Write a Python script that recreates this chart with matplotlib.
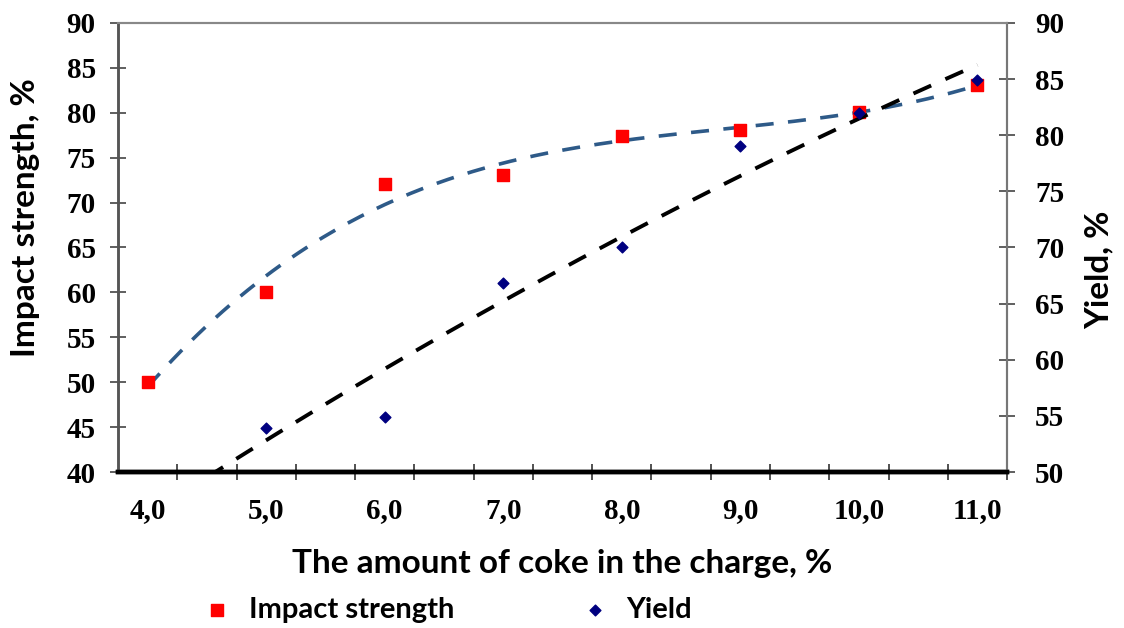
import numpy as np
import matplotlib
matplotlib.use("Agg")
import matplotlib.pyplot as plt

# data
coke = [4.0, 5.0, 6.0, 7.0, 8.0, 9.0, 10.0, 11.0]
impact = [50.0, 60.0, 72.1, 73.1, 77.4, 78.1, 80.1, 83.1]
# the 4,0 yield point lies below the right axis range (hidden)
yield_ = [47.0, 53.9, 54.9, 66.8, 70.0, 79.0, 82.0, 84.9]
tick_labels = ["4,0", "5,0", "6,0", "7,0", "8,0", "9,0", "10,0", "11,0"]

sans = ["Lato", "DejaVu Sans"]
serif = ["Liberation Serif", "DejaVu Serif"]

fig = plt.figure(figsize=(11.24, 6.28), dpi=100)
ax = fig.add_axes([0.105, 0.2484, 0.791, 0.715])
ax2 = ax.twinx()

# trend lines (polynomial, like the spreadsheet trendlines)
xs = np.linspace(coke[0], coke[-1], 200)
p_imp = np.polyfit(coke, impact, 3)
p_yld = np.polyfit(coke, yield_, 2)

ax.plot(xs, np.polyval(p_imp, xs), ls=(0, (5, 4)), color="#2E5A88", lw=2.6, zorder=2)
ax.scatter(coke, impact, marker="s", s=80, color="#FF0000", zorder=3, label="Impact strength")
ax2.plot(xs, np.polyval(p_yld, xs), ls=(0, (5, 4)), color="black", lw=2.8, zorder=2)
ax2.scatter(coke, yield_, marker="D", s=30, color="#000080", zorder=3, label="Yield")

ax.set_xlim(3.75, 11.25)
ax.set_ylim(40, 90)
ax2.set_ylim(50, 90)
ax.set_yticks(np.arange(40, 91, 5))
ax2.set_yticks(np.arange(50, 91, 5))

ax.set_xticks(coke)
ax.set_xticklabels(tick_labels)
ax.set_xticks(np.arange(4.25, 11.3, 0.5), minor=True)
ax.tick_params(axis="x", which="major", length=0, pad=18)
ax.tick_params(axis="x", which="minor", direction="inout", length=11, width=1.2, color="#333333")
ax.tick_params(axis="y", direction="inout", length=12, width=1.2, color="#444444", pad=10)
ax2.tick_params(axis="y", direction="inout", length=12, width=1.2, color="#444444", pad=14)

for a in (ax, ax2):
    for lab in a.get_xticklabels() + a.get_yticklabels():
        lab.set_family(serif)
        lab.set_fontweight("bold")
        lab.set_fontsize(21)

for a in (ax, ax2):
    a.spines["bottom"].set_linewidth(3.2)
    a.spines["bottom"].set_color("black")
    a.spines["left"].set_linewidth(1.8)
    a.spines["left"].set_color("#555555")
    a.spines["top"].set_linewidth(1.5)
    a.spines["top"].set_color("#888888")
    a.spines["right"].set_linewidth(1.5)
    a.spines["right"].set_color("#777777")

ax.set_xlabel("The amount of coke in the charge, %", family=sans, fontweight="bold", fontsize=24)
ax.set_ylabel("Impact strength, %", family=sans, fontweight="bold", fontsize=24)
ax2.set_ylabel("Yield, %", family=sans, fontweight="bold", fontsize=24)
ax.xaxis.set_label_coords(0.5, -0.172)
ax.yaxis.set_label_coords(-0.088, 0.566)
ax2.yaxis.set_label_coords(1.087, 0.45)

h1, l1 = ax.get_legend_handles_labels()
h2, l2 = ax2.get_legend_handles_labels()
fig.legend(h1 + h2, l1 + l2, loc="center", bbox_to_anchor=(0.398, 0.029), ncol=2,
           frameon=False, handlelength=1.0, handletextpad=0.6, columnspacing=4.3,
           prop={"family": sans, "weight": "bold", "size": 21})

fig.savefig("out.png", dpi=100)
